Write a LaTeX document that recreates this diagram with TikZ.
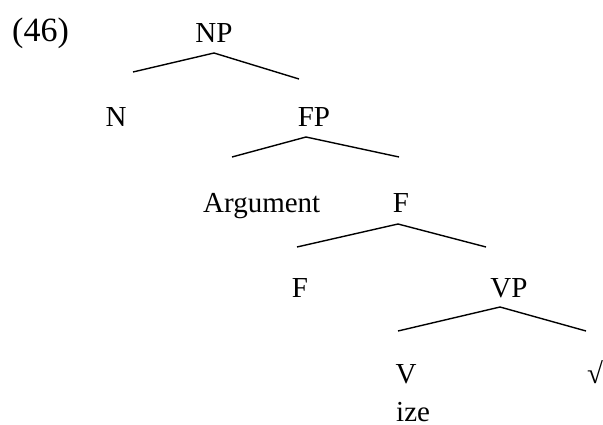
\documentclass[tikz,border=0pt]{standalone}
\usepackage{fontspec}
\setmainfont{Liberation Serif}
\begin{document}
\begin{tikzpicture}[x=1pt,y=-1pt,
  lbl/.style={inner sep=0pt,anchor=base,font=\fontsize{29}{32}\selectfont},
  bar/.style={line width=1.4pt}]
\useasboundingbox (0,0) rectangle (603,425);
\node[lbl,anchor=base west,font=\fontsize{34}{36}\selectfont] (num) at (12,42) {(46)};
\node[lbl] (np) at (214,43) {NP};
\node[lbl] (n) at (116,127) {N};
\node[lbl] (fp) at (314,127) {FP};
\node[lbl,anchor=base west] (arg) at (203,213) {Argument};
\node[lbl] (f1) at (401,213) {F};
\node[lbl] (f2) at (300,298) {F};
\node[lbl] (vp) at (509,297) {VP};
\node[lbl] (v) at (406,383) {V};
\node[lbl,anchor=base west] (root) at (587,383) {√};
\node[lbl,anchor=base west] (ize) at (396,421) {ize};
\coordinate (npL) at (133,72); \coordinate (npA) at (214,53); \coordinate (npR) at (299,79);
\coordinate (fpL) at (232,157); \coordinate (fpA) at (306,137); \coordinate (fpR) at (399,157);
\coordinate (fL) at (297,247); \coordinate (fA) at (398,224); \coordinate (fR) at (486,247);
\coordinate (vpL) at (398,331); \coordinate (vpA) at (500,307); \coordinate (vpR) at (586,331);
\draw[bar] (npL) -- (npA) -- (npR);
\draw[bar] (fpL) -- (fpA) -- (fpR);
\draw[bar] (fL) -- (fA) -- (fR);
\draw[bar] (vpL) -- (vpA) -- (vpR);
\end{tikzpicture}
\end{document}
